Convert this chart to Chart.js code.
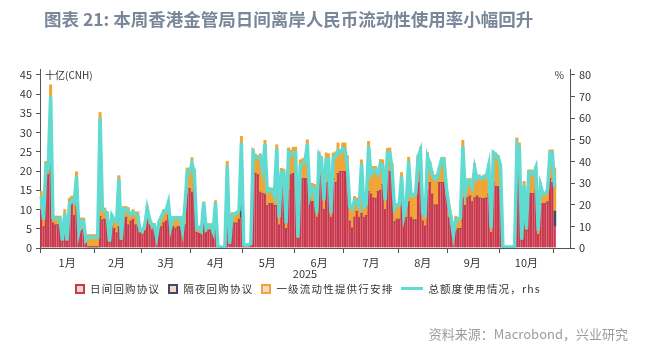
<!DOCTYPE html>
<html lang="zh-CN">
<head>
  <meta charset="UTF-8">
  <title>香港金管局日间离岸人民币流动性</title>
  <script src="https://cdn.jsdelivr.net/npm/chart.js"></script>
  <style>
    body {
      margin: 0;
      background: #fff;
      font-family: "Noto Sans CJK SC", "Noto Sans", sans-serif;
    }
    .wrap {
      position: relative;
      width: 651px;
      height: 347px;
      overflow: hidden;
    }
    #chart {
      position: absolute;
      left: 0;
      top: 0;
    }
    .title {
      position: absolute;
      left: 44px;
      top: 6px;
      font-size: 17.5px;
      font-weight: 700;
      color: #7a879a;
      white-space: nowrap;
    }
    #legend {
      position: absolute;
      left: 75px;
      top: 281px;
      display: flex;
      align-items: center;
      gap: 8px;
      font-size: 10.5px;
      letter-spacing: 1.2px;
      color: #333;
      white-space: nowrap;
    }
    #legend .item {
      display: flex;
      align-items: center;
    }
    #legend .box {
      width: 6px;
      height: 6px;
      border: 2px solid;
      margin-right: 5px;
    }
    #legend .line {
      width: 22px;
      height: 3px;
      margin-right: 5px;
    }
    .source {
      position: absolute;
      right: 23px;
      top: 324px;
      font-size: 13px;
      color: #9c9c9c;
      white-space: nowrap;
    }
  </style>
</head>
<body>
  <div class="wrap">
    <canvas id="chart" width="651" height="347"></canvas>
    <div class="title">图表 21: 本周香港金管局日间离岸人民币流动性使用率小幅回升</div>
    <div id="legend"></div>
    <div class="source">资料来源：Macrobond，兴业研究</div>
  </div>

  <script>
    // 十亿元人民币，按工作日
    const intradayRepo = [
      10, 5.5, 18.5, 19, 20.5, 6.5, 6, 6, 6, 1.8, 8, 1.8, 8.5, 12, 8.5, 12.5, 3.5, 4.5, 4.8, 2, 0.3, 0.3, 0.3,
      0.3, 0.3, 8.2, 7.3, 7.5, 7, 1.5, 5.6, 5, 3.9, 5.5, 2, 7.8, 8, 6, 7, 7.5, 6, 5.5, 4,
      3.5, 4.5, 8, 6, 4.7, 5, 2.5, 5, 5.5, 6.5, 7, 8.5, 4.5, 5.5, 5, 5.5, 5.5, 3, 6, 14, 15.5,
      14.5, 16.5, 4, 3.8, 3.5, 8.2, 4, 4.5, 4.8, 3.5, 9, 0.8, 0.3, 0.2, 0.2, 6, 1, 5.6, 6.5, 6.5, 7.5, 8,
      1, 0.8, 1, 1.5, 19.8, 19.4, 19, 14.5, 14.2, 14, 11, 11.6, 11.6, 11, 11, 6, 15, 15.5, 5, 15, 19, 19.4,
      19.4, 2.5, 17.5, 18, 18.1, 18, 14, 12, 12, 8, 19, 18.5, 10, 17, 17, 8, 18, 17, 19.4, 19.9, 19.9,
      19.9, 19, 7, 5.2, 8, 9.5, 8, 9, 8, 8.5, 14.7, 14, 13, 12.9, 14.7, 15, 16.5, 10, 19.9, 19.9, 18, 6.8, 7.5,
      7.5, 14.7, 7, 8, 12, 8, 7.3, 7.3, 17, 19.4, 7, 5.7, 15, 17, 14, 11.2, 11.2, 17, 17, 17, 13.5,
      8, 6, 3, 4.5, 5, 5, 13, 11, 13, 13.5, 12, 13, 13.5, 13, 12.9, 12.9, 13, 14, 4, 17, 16, 16,
      15, 0.3, 0.3, 0.3, 0.3, 0.3, 0.5, 20.7, 20.7, 2, 11.6, 4.5, 14.2, 14.2, 14.2, 15, 3.5, 11.6, 11.6, 11.6, 12, 18, 17,
      5.6
    ];
    const overnightRepo = [
      0, 0, 0, 0, 10, 0, 0, 0, 0, 0, 0, 0, 0, 0, 0, 0, 0, 0, 0, 0, 0, 0, 0,
      0, 0, 0, 0, 0, 0, 0, 0, 0, 0, 0, 0, 0, 0, 0, 0, 0, 0, 0, 0,
      0, 0, 0, 0, 0, 0, 0, 0, 0, 0, 0, 0, 0, 0, 0, 0, 0, 0, 0, 0, 0,
      0, 0, 0, 0, 0, 0, 0, 0, 0, 0, 0, 0, 0, 0, 0, 0, 0, 0, 0, 0, 0, 13,
      0, 0, 0, 0, 0, 0, 0, 0, 0, 0, 0, 0, 0, 0, 0, 0, 0, 0, 0, 0, 0, 0,
      0, 0, 0, 0, 0, 0, 0, 0, 0, 0, 0, 0, 0, 0, 0, 0, 0, 0, 0, 0, 0,
      0, 0, 0, 0, 0, 0, 0, 0, 0, 0, 0, 0, 0, 0, 0, 0, 0, 0, 0, 0, 0, 0, 0,
      0, 0, 0, 0, 0, 0, 0, 0, 0, 0, 0, 0, 0, 0, 0, 0, 0, 0, 0, 0, 0,
      0, 0, 0, 0, 0, 0, 0, 0, 0, 0, 0, 0, 0, 0, 0, 0, 0, 0, 0, 0, 0, 0,
      0, 0, 0, 0, 0, 0, 0, 0, 4, 0, 0, 0, 0, 0, 0, 0, 0, 0, 0, 0, 0, 0, 0,
      4
    ];
    const primaryLiquidity = [
      4.7, 3, 4, 3, 11.9, 2, 2.3, 2.3, 2.3, 0.4, 2, 0.4, 4.5, 1.5, 5, 7.3, 1.5, 3.3, 3, 0.5, 3.2, 3.2, 3.2,
      3.2, 3.2, 27, 3.1, 2.9, 2.5, 0.3, 3.2, 2.8, 3.6, 13.3, 0.5, 3, 2.8, 4.5, 2, 2.5, 3.4, 3.9, 1,
      1.5, 1.9, 2.9, 2, 1.7, 1.4, 0.5, 2, 3, 3.5, 3, 3.8, 1.1, 2.7, 3.2, 2.5, 2.7, 1.7, 5.2, 6.8, 5.2,
      9, 4, 1.5, 1.8, 1.3, 3.8, 1.5, 1.8, 1.5, 1, 3.3, 0, 0, 0, 0, 16.5, 0.2, 3.6, 2.7, 3, 2.5, 8,
      0, 0, 0, 0, 6, 5, 5, 10, 8, 14, 4, 4.1, 4, 3, 15.8, 2, 5.7, 5, 1.9, 11, 6.5, 6.8,
      6.8, 0.9, 5.4, 5.2, 5.3, 10.1, 3, 4.8, 4.5, 1.9, 6, 5.3, 3.4, 7.7, 7.5, 1.5, 6.7, 8, 7.9, 5.6, 7.4,
      7.4, 5, 4.6, 5.6, 5.4, 3.5, 3.6, 13.9, 3.6, 3.5, 13, 6.3, 8.2, 8.3, 5.6, 8, 6.4, 3.4, 6, 6.1, 4, 4, 4,
      4, 4.9, 2, 3.5, 11.6, 6.2, 7, 7.1, 7.2, 6.8, 2, 3.3, 9.8, 5.5, 5.9, 7.8, 7.8, 3.5, 6.5, 6.6, 2.5,
      3.6, 2.5, 1, 3.7, 3, 3.5, 15, 4, 5, 4.6, 4, 9, 5, 6, 5.7, 6.1, 6, 8, 1.6, 8, 8.7, 8,
      7, 0, 0, 0, 0, 0, 0, 7.9, 2.6, 0.5, 5.7, 1.1, 6.1, 6.1, 6, 6.2, 1.2, 5.2, 2.6, 2.6, 3, 7.5, 8.5,
      11.2
    ];
    // 总额度使用率 (%)，右轴
    const usagePct = [
      24, 13, 38, 37, 70, 14, 13.5, 13.5, 13.5, 3.5, 16, 3.5, 20, 22, 21, 33, 7.5, 12.5, 12.5, 3.5, 5, 5, 5,
      5, 5, 60, 17.5, 17, 16, 3, 15, 13, 12, 32, 4, 18, 18, 17, 15.5, 16.5, 15.5, 15, 8,
      8, 10.5, 18.5, 13.5, 10.5, 10.5, 5, 12, 14.5, 17, 17, 21, 9.5, 14, 14, 14, 14, 8, 19, 35, 35,
      39, 35, 9, 9.5, 8, 21, 9, 10.5, 10.5, 7.5, 21, 1, 0.4, 0.3, 0.3, 38, 2, 15, 15.5, 16, 17.5, 48.5,
      1.5, 1.3, 1.5, 2, 44, 42, 42, 42, 36, 48, 26, 27, 26.5, 24, 46, 14, 35, 35, 11.5, 44, 43, 44,
      44, 5, 38, 39, 40, 48, 24, 28, 27, 16, 43, 41, 22, 41, 41, 16, 42, 42, 45, 44, 46,
      45, 38, 19, 18, 22, 21, 19, 39, 19, 20, 47, 34, 36, 36, 34, 39, 38, 22, 44, 44, 36, 18, 20,
      20, 33, 15, 20, 40, 24, 24, 25, 42, 45, 16, 15, 42, 39, 34, 32, 32, 37, 41, 41, 28,
      20, 14, 6, 13, 13, 14, 47, 26, 31, 31, 28, 37, 32, 33, 32, 33, 33, 38, 9, 44, 43, 42,
      38, 0.5, 0.5, 0.5, 0.5, 0.5, 0.8, 48, 46, 4, 29, 9, 35, 35, 34, 37, 8, 29, 25, 25, 27, 44, 44,
      28
    ];
    const monthNames = ["1月", "2月", "3月", "4月", "5月", "6月", "7月", "8月", "9月", "10月"];
    const yearLabel = "2025";

    // 工作日序列，坐标轴一直延伸到 11 月中旬
    const days = [];
    for (let d = new Date(Date.UTC(2025, 0, 1)); d <= new Date(Date.UTC(2025, 10, 11)); d.setUTCDate(d.getUTCDate() + 1)) {
      const wd = d.getUTCDay();
      if (wd !== 0 && wd !== 6) days.push(d.toISOString().slice(0, 10));
    }

    // 每月第一个工作日画刻度，月份名放在月中
    const monthStart = [];
    days.forEach((d, i) => {
      if (i === 0 || d.slice(5, 7) !== days[i - 1].slice(5, 7)) monthStart.push(i);
    });
    const monthLabelAt = {};
    monthNames.forEach((name, m) => {
      const a = monthStart[m];
      const b = (monthStart[m + 1] || days.length) - 1;
      monthLabelAt[Math.floor((a + b) / 2)] = name;
    });

    const FONT = '"Noto Sans CJK SC", "Noto Sans", sans-serif';
    const AXIS = "#555";
    const colors = {
      red: "#c8384c",
      navy: "#3d4a6e",
      orange: "#f1a536",
      cyan: "#5fdbd2"
    };

    const unitLabels = {
      id: "unitLabels",
      afterDraw(chart) {
        const { ctx, chartArea } = chart;
        const y = chart.scales.y.getPixelForValue(45);
        ctx.save();
        ctx.font = "10px " + FONT;
        ctx.fillStyle = "#333";
        ctx.textBaseline = "middle";
        ctx.textAlign = "left";
        ctx.fillText("十亿(CNH)", chartArea.left + 5, y);
        ctx.textAlign = "right";
        ctx.fillText("%", chartArea.right - 6, y);
        ctx.restore();
      }
    };

    const barBase = {
      type: "bar",
      yAxisID: "y",
      stack: "usage",
      order: 1,
      barPercentage: 1,
      categoryPercentage: 1,
      borderWidth: 0
    };

    const chart = new Chart(document.getElementById("chart"), {
      data: {
        labels: days,
        datasets: [
          {
            ...barBase,
            label: "日间回购协议",
            data: intradayRepo,
            backgroundColor: colors.red,
            borderColor: "rgba(236,130,145,0.7)",
            borderWidth: { right: 0.5 }
          },
          { ...barBase, label: "隔夜回购协议", data: overnightRepo, backgroundColor: colors.navy },
          { ...barBase, label: "一级流动性提供行安排", data: primaryLiquidity, backgroundColor: colors.orange },
          {
            type: "line",
            label: "总额度使用情况，rhs",
            data: usagePct,
            yAxisID: "y1",
            order: 0,
            borderColor: colors.cyan,
            borderWidth: 3.5,
            pointRadius: 0,
            tension: 0
          }
        ]
      },
      options: {
        responsive: false,
        animation: false,
        layout: { padding: { top: 69, bottom: 65, left: 0, right: 0 } },
        plugins: {
          legend: { display: false },
          tooltip: { enabled: false }
        },
        scales: {
          x: {
            stacked: true,
            grid: {
              drawOnChartArea: false,
              tickLength: 5,
              offset: true,
              color: "rgba(0,0,0,0)",
              tickColor: (c) => (monthStart.includes(c.index) ? AXIS : "rgba(0,0,0,0)")
            },
            border: { color: AXIS, width: 1 },
            ticks: {
              autoSkip: false,
              maxRotation: 0,
              padding: 3,
              color: "#333",
              font: { family: FONT, size: 11 },
              callback: (v, i) => monthLabelAt[i] || ""
            },
            title: {
              display: true,
              text: yearLabel,
              color: "#333",
              padding: { top: 0, bottom: 2 },
              font: { family: FONT, size: 11 }
            },
            afterFit: (s) => { s.height = 34; }
          },
          y: {
            position: "left",
            stacked: true,
            min: 0,
            max: 46.5,
            grid: { drawOnChartArea: false, tickLength: 4, tickColor: AXIS },
            border: { color: AXIS, width: 1 },
            ticks: {
              stepSize: 5,
              includeBounds: false,
              padding: 4,
              color: "#333",
              font: { family: FONT, size: 11 }
            },
            afterFit: (s) => { s.width = 40; }
          },
          y1: {
            position: "right",
            min: 0,
            max: 46.5 * 80 / 45,
            grid: { drawOnChartArea: false, tickLength: 5, tickColor: AXIS },
            border: { color: AXIS, width: 1 },
            ticks: {
              stepSize: 10,
              includeBounds: false,
              padding: 4,
              color: "#333",
              font: { family: FONT, size: 11 }
            },
            afterFit: (s) => { s.width = 81; }
          }
        }
      },
      plugins: [unitLabels]
    });

    // 图例
    const legend = document.getElementById("legend");
    chart.data.datasets.forEach((ds) => {
      const item = document.createElement("div");
      item.className = "item";
      const mark = document.createElement("span");
      if (ds.type === "line") {
        mark.className = "line";
        mark.style.background = ds.borderColor;
      } else {
        mark.className = "box";
        mark.style.borderColor = ds.backgroundColor;
        mark.style.background = "#f3d9c8";
      }
      const text = document.createElement("span");
      text.textContent = ds.label;
      item.appendChild(mark);
      item.appendChild(text);
      legend.appendChild(item);
    });
  </script>
</body>
</html>
